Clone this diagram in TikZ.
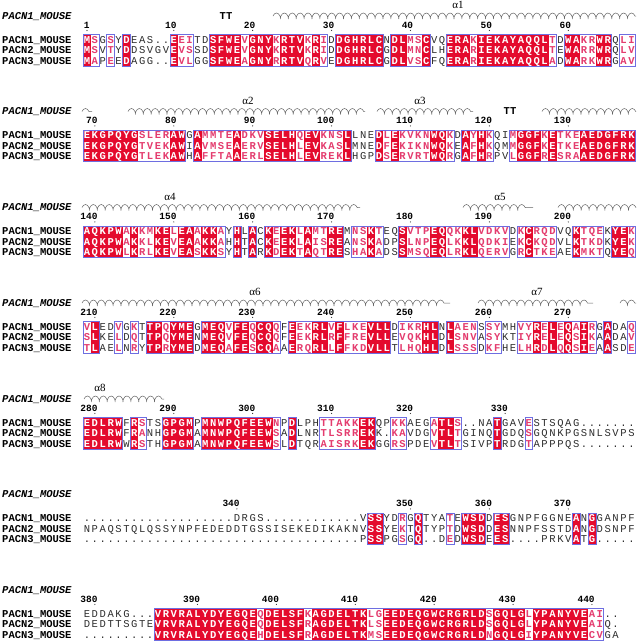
\documentclass[tikz,border=0pt]{standalone}
\usepackage{fontspec}
\setmonofont{Liberation Mono}
\newfontfamily\grfont{Liberation Serif}
\usetikzlibrary{decorations.pathmorphing}
\definecolor{espred}{RGB}{228,10,45}
\definecolor{esppink}{RGB}{228,60,110}
\definecolor{espblk}{RGB}{45,45,45}
\definecolor{espframe}{RGB}{110,110,225}
\definecolor{esphelix}{RGB}{100,100,100}
\tikzset{
 resw/.style={anchor=base, inner sep=0pt, text=white, font=\ttfamily\bfseries\fontsize{10.5}{12}\selectfont},
 resp/.style={anchor=base, inner sep=0pt, text=esppink, font=\ttfamily\bfseries\fontsize{10.5}{12}\selectfont},
 resk/.style={anchor=base, inner sep=0pt, text=espblk, font=\ttfamily\fontsize{10.5}{12}\selectfont},
 seqname/.style={anchor=base west, inner sep=0pt, text=black, font=\ttfamily\bfseries\fontsize{10.5}{12}\selectfont},
 hdrname/.style={anchor=base west, inner sep=0pt, text=black, font=\ttfamily\bfseries\itshape\fontsize{10.5}{12}\selectfont},
 rulernum/.style={anchor=base east, inner sep=0pt, text=black, font=\ttfamily\bfseries\fontsize{9.5}{11}\selectfont},
 framebox/.style={draw=espframe, line width=0.6pt},
 helixline/.style={draw=esphelix, line width=0.5pt, decorate, decoration={coil, segment length=7.89pt, amplitude=3pt, aspect=0.5}},
 sslabel/.style={inner sep=0pt, text=black, font=\grfont\fontsize{11}{12}\selectfont},
 ttlabel/.style={inner sep=0pt, text=black, font=\ttfamily\bfseries\fontsize{10.5}{12}\selectfont}
}
\newcount\colidx
\newcount\runstart
\newif\ifinrun
\def\xzero{87}
\def\cw{7.89}
\def\drawres#1#2{%
  \pgfmathsetmacro\xc{\xzero+(\the\colidx-1)*\cw}%
  \if#2R%
    \fill[espred] (\xc-4.1,\yc-5.3) rectangle (\xc+4.1,\yc+5.3);%
    \node[resw] at (\xc,\yc+3.3) {#1};%
  \else
    \if#2s%
      \if#1.%
        \node[resk] at (\xc,\yc+3.3) {.};%
      \else
        \node[resp] at (\xc,\yc+3.3) {#1};%
      \fi
    \else
      \node[resk] at (\xc,\yc+3.3) {#1};%
    \fi
  \fi}
\def\reswalk#1#2\relax#3#4\relax{%
  \global\advance\colidx by 1
  \drawres{#1}{#3}%
  \def\tmprest{#2}%
  \ifx\tmprest\empty \let\seqnext\relax
  \else \def\seqnext{\reswalk#2\relax#4\relax}\fi
  \seqnext}
\def\drawframe#1#2{%
  \draw[framebox] ({\xzero+(#1-1)*\cw-\cw/2},\ytop) rectangle ({\xzero+(#2-1)*\cw+\cw/2},\ybot);}
\def\framewalk#1#2\relax{%
  \global\advance\colidx by 1
  \if#1-%
    \ifinrun \drawframe{\the\runstart}{\the\numexpr\colidx-1\relax}\global\inrunfalse\fi
  \else
    \ifinrun\else\global\runstart=\colidx\global\inruntrue\fi
  \fi
  \def\tmprest{#2}%
  \ifx\tmprest\empty
    \ifinrun\drawframe{\the\runstart}{\the\colidx}\global\inrunfalse\fi
    \let\seqnext\relax
  \else
    \def\seqnext{\framewalk#2\relax}%
  \fi
  \seqnext}
\newcommand\seqline[4]{%
  \def\yc{#1}%
  \node[seqname] at (2,#1+3.3) {#2};%
  \global\colidx=0
  \reswalk#3\relax#4\relax}
\newcommand\seqblock[5]{%
  \node[hdrname] at (2,#1-21) {PACN1\_MOUSE};%
  \seqline{#1}{PACN1\_MOUSE}{#3}{#2}%
  \seqline{#1+10.4}{PACN2\_MOUSE}{#4}{#2}%
  \seqline{#1+20.8}{PACN3\_MOUSE}{#5}{#2}%
  \def\ytop{#1-5.3}\def\ybot{#1+26.1}%
  \global\colidx=0 \global\inrunfalse
  \framewalk#2\relax}
\newcommand\rnum[3]{%
  \pgfmathsetmacro\xr{\xzero+(#2-1)*\cw}%
  \node[rulernum] at (\xr+2.9,#1-12) {#3};%
  \fill[espblk] (\xr,#1-9.6) circle (0.6);}
\newcommand\helix[3]{\draw[helixline] (#2,#1-24) -- (#3,#1-24);}
\newcommand\sslab[3]{\node[sslabel] at (#2,#1-35) {#3};}
\newcommand\ttlab[2]{\node[ttlabel] at (#2,#1-24) {TT};}
\begin{document}
\begin{tikzpicture}[x=1pt,y=-1pt]
\useasboundingbox (0,0) rectangle (640,641);
\fill[white] (0,0) rectangle (640,641);
% ---------------- block 1
\def\yb{40}
\seqblock{\yb}{Rs-s-R-----Rss--RRRRsRRRsRRRsRs-RRRRRR-RRssR--RRRsRRRRRRRRRs-RRssRR-ss}%
 {MSGSYDEAS..EEITDSFWEVGNYKRTVKRIDDGHRLCNDLMSCVQERAKIEKAYAQQLTDWAKRWRQLI}%
 {MSVTYDDSVGVEVSSDSFWEVGNYKRTVKRIDDGHRLCGDLMNCLHERARIEKAYAQQLTEWARRWRQLV}%
 {MAPEEDAGG..EVLGGSFWEAGNYRRTVQRVEDGHRLCGDLVSCFQERARIEKAYAQQLADWARKWRGAV}
\rnum{\yb}{1}{1}\rnum{\yb}{12}{10}\rnum{\yb}{22}{20}\rnum{\yb}{32}{30}\rnum{\yb}{42}{40}\rnum{\yb}{52}{50}\rnum{\yb}{62}{60}
\ttlab{\yb}{226}
\helix{\yb}{273}{636}\sslab{\yb}{458}{α1}
% ---------------- block 2
\def\yb{135.5}
\seqblock{\yb}{RRRRRRRssssRR-RssssRsssRRRRsRRsssR---RsRssssRRs-RsRs--sRRRsRsssRRRRRRR}%
 {EKGPQYGSLERAWGAMMTEADKVSELHQEVKNSLLNEDLEKVKNWQKDAYHKQIMGGFKETKEAEDGFRK}%
 {EKGPQYGTVEKAWIAVMSEAERVSELHLEVKASLMNEDFEKIKNWQKEAFHKQMMGGFKETKEAEDGFRK}%
 {EKGPQYGTLEKAWHAFFTAAERLSELHLEVREKLHGPDSERVRTWQRGAFHRPVLGGFRESRAAEDGFRK}
\rnum{\yb}{2}{70}\rnum{\yb}{12}{80}\rnum{\yb}{22}{90}\rnum{\yb}{32}{100}\rnum{\yb}{42}{110}\rnum{\yb}{52}{120}\rnum{\yb}{62}{130}
\helix{\yb}{82}{92}
\helix{\yb}{128}{365}\sslab{\yb}{248}{α2}
\helix{\yb}{377}{473}\sslab{\yb}{420}{α3}
\ttlab{\yb}{510}
\helix{\yb}{542}{636}
% ---------------- block 3
\def\yb{231.5}
\seqblock{\yb}{RRRRRsRssRRsRRsRRs-R-R-RsRRsRssRR-ssRs--RsssRRssRRssss-sRsss--Rsss-RRs}%
 {AQKPWAKKMKELEAAKKAYHLACKEEKLAMTREMNSKTEQSVTPEQQKKLVDKVDKCRQDVQKTQEKYEK}%
 {AQKPWAKKLKEVEAAKKAHHTACKEEKLAISREANSKADPSLNPEQLKKLQDKIEKCKQDVLKTKDKYEK}%
 {AQKPWLKRLKEVEASKKSYHTARKDEKTAQTRESHAKADSSMSQEQLRKLQERVGRCTKEAEKMKTQYEQ}
\rnum{\yb}{2}{140}\rnum{\yb}{12}{150}\rnum{\yb}{22}{160}\rnum{\yb}{32}{170}\rnum{\yb}{42}{180}\rnum{\yb}{52}{190}\rnum{\yb}{62}{200}
\helix{\yb}{82}{360}\sslab{\yb}{170}{α4}
\helix{\yb}{463}{533}\sslab{\yb}{500}{α5}
\helix{\yb}{558}{636}
% ---------------- block 4
\def\yb{327}
\seqblock{\yb}{sR--s-s-RRsRRR-RRRsRRsRRs-RssRRsRsssRRR-sssRR-Rsss-ss--ssRsRsRsRs-R--s}%
 {VLEDVGKTTPQYMEGMEQVFEQCQQFEEKRLVFLKEVLLDIKRHLNLAENSSYMHVYRELEQAIRGADAQ}%
 {SLKELDQTTPQYMENMEQVFEQCQQFEEKRLRFFREVLLEVQKHLDLSNVASYKTIYRELEQSIKAADAV}%
 {TLAELNRYTPRYMEDMEQAFESCQAAERQRLLFFKDVLLTLHQHLDLSSSDKFHELHRDLQQSIEAASDE}
\rnum{\yb}{2}{210}\rnum{\yb}{12}{220}\rnum{\yb}{22}{230}\rnum{\yb}{32}{240}\rnum{\yb}{42}{250}\rnum{\yb}{52}{260}\rnum{\yb}{62}{270}
\helix{\yb}{82}{450}\sslab{\yb}{255}{α6}
\helix{\yb}{478}{593}\sslab{\yb}{537}{α7}
\helix{\yb}{620}{636}
% ---------------- block 5
\def\yb{423}
\seqblock{\yb}{RRRRR-Rs--RRRR-RRRRRRRRRs-R---sssssRR--ss---sRRs----R---s-------------}%
 {EDLRWFRSTSGPGMPMNWPQFEEWNPDLPHTTAKKEKQPKKAEGATLS..NATGAVESTSQAG.......}%
 {EDLRWFRANHGPGMAMNWPQFEEWSADLNRTLSRREKK.KAVDGVTLTGINQTGDQSGQNKPGSNLSVPS}%
 {EDLRWWRSTHGPGMAMNWPQFEEWSLDTQRAISRKEKGGRSPDEVTLTSIVPTRDGTAPPPQS.......}
\rnum{\yb}{2}{280}\rnum{\yb}{12}{290}\rnum{\yb}{22}{300}\rnum{\yb}{32}{310}\rnum{\yb}{42}{320}\rnum{\yb}{54}{330}
\helix{\yb}{84}{164}\sslab{\yb}{100}{α8}
% ---------------- block 6
\def\yb{518.5}
\seqblock{\yb}{------------------------------------RR--s-R---s-RRR-RR--------R-R-----}%
 {...................DRGS............VSSYDRGQTYATEWSDDESGNPFGGNEANGGANPF}%
 {NPAQSTQLQSSYNPFEDEDDTGSSISEKEDIKAKNVSSYEKTQTYPTDWSDDESNNPFSSTDANGDSNPF}%
 {...................................PSSPGSGQ..DEDWSDEES....PRKVATG.....}
\rnum{\yb}{20}{340}\rnum{\yb}{42}{350}\rnum{\yb}{52}{360}\rnum{\yb}{62}{370}
% ---------------- block 7
\def\yb{614}
\seqblock{\yb}{---------RRRRRRRRRRRRRsRRRRRsRRRRRRRssRRRRRRRRRRRRRsRRRRsRRRRRRRss--}%
 {EDDAKG...VRVRALYDYEGQEQDELSFKAGDELTKLGEEDEQGWCRGRLDSGQLGLYPANYVEAI..}%
 {DEDTTSGTEVRVRALYDYEGQEQDELSFRAGDELTKLSEEDEQGWCRGRLDSGQLGLYPANYVEAIQ.}%
 {.........VRVRALYDYEGQEHDELSFRAGDELTKMSEEDEQGWCRGRLDNGQLGIYPANYVECVGA}
\rnum{\yb}{2}{380}\rnum{\yb}{15}{390}\rnum{\yb}{25}{400}\rnum{\yb}{35}{410}\rnum{\yb}{45}{420}\rnum{\yb}{55}{430}\rnum{\yb}{65}{440}
\end{tikzpicture}
\end{document}
